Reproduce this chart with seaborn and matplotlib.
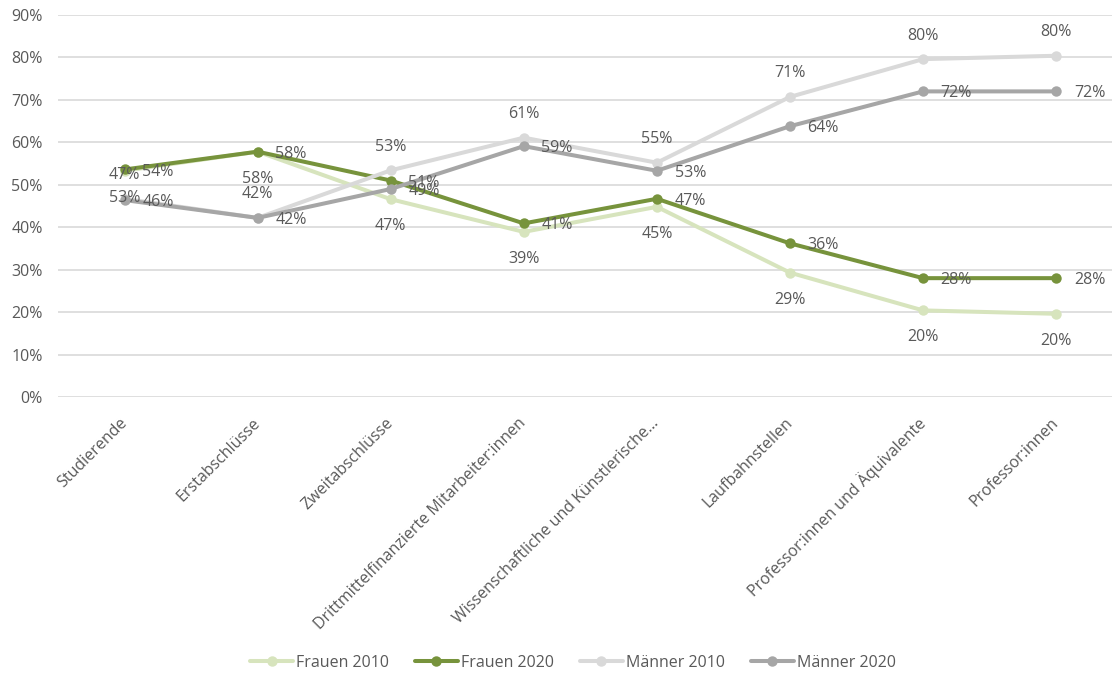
import matplotlib
matplotlib.use("Agg")
import matplotlib.pyplot as plt
import seaborn as sns
import pandas as pd
from matplotlib.lines import Line2D

categories = ["Studierende", "Erstabschlüsse", "Zweitabschlüsse",
              "Drittmittelfinanzierte Mitarbeiter:innen",
              "Wissenschaftliche und Künstlerische…", "Laufbahnstellen",
              "Professor:innen und Äquivalente", "Professor:innen"]

frauen_2010 = [53.3, 57.8, 46.6, 38.9, 44.8, 29.3, 20.4, 19.6]
frauen_2020 = [53.6, 57.8, 51.0, 40.9, 46.7, 36.2, 28.0, 28.0]
maenner_2010 = [46.7, 42.2, 53.4, 61.1, 55.2, 70.7, 79.6, 80.4]
maenner_2020 = [46.4, 42.2, 49.0, 59.1, 53.3, 63.8, 72.0, 72.0]

series_names = ["Frauen 2010", "Frauen 2020", "Männer 2010", "Männer 2020"]
series_values = [frauen_2010, frauen_2020, maenner_2010, maenner_2020]
colors = ["#D7E4BD", "#77933C", "#D9D9D9", "#A6A6A6"]

sns.set_theme(style="white")
plt.rcParams['font.family'] = ['Open Sans', 'DejaVu Sans']
TXT = "#595959"
FS = 11.5
LW = 2.9
MS = 7.5

rows = []
for name, vals in zip(series_names, series_values):
    for i, v in enumerate(vals):
        rows.append({"pos": i, "value": v, "series": name})
df = pd.DataFrame(rows)

fig = plt.figure(figsize=(11.17, 6.76), dpi=100)
ax = fig.add_axes([58 / 1117, 1 - 397 / 676, (1112 - 58) / 1117, (397 - 15) / 676])

sns.lineplot(data=df, x="pos", y="value", hue="series", hue_order=series_names,
             palette=colors, marker="o", markersize=MS, markeredgewidth=0,
             linewidth=LW, ax=ax, legend=False, zorder=3)

ax.set_xlim(-0.5, 7.42)
ax.set_ylim(0, 90)
ax.set_yticks(range(0, 91, 10))
ax.set_yticklabels([f"{t}%" for t in range(0, 91, 10)], color=TXT, fontsize=FS)
ax.set_xticks(range(len(categories)))
ax.set_xticklabels(categories, rotation=45, ha="right", va="center",
                   rotation_mode="anchor", color=TXT, fontsize=FS)
ax.tick_params(axis="both", length=0)
ax.tick_params(axis="x", pad=17)
ax.tick_params(axis="y", pad=11)
ax.grid(axis="y", color="#D9D9D9", linewidth=1.2, zorder=0)
ax.set_axisbelow(True)
for s in ax.spines.values():
    s.set_visible(False)
ax.set_xlabel("")
ax.set_ylabel("")

offsets = {
    "Frauen 2010": (0, -19.5),
    "Frauen 2020": (24, -1.5),
    "Männer 2010": (0, 17),
    "Männer 2020": (24, -1.5),
}
for name, vals in zip(series_names, series_values):
    for i, v in enumerate(vals):
        ax.annotate(f"{round(v):d}%", (i, v), xytext=offsets[name],
                    textcoords="offset points", ha="center", va="center",
                    color=TXT, fontsize=FS, zorder=5)

handles = [Line2D([0], [0], color=c, linewidth=LW, marker="o", markersize=MS,
                  markeredgewidth=0) for c in colors]
fig.legend(handles, series_names, loc="center", bbox_to_anchor=(0.513, 1 - 663 / 676),
           ncol=4, frameon=False, fontsize=FS, handlelength=2.7,
           handletextpad=0.2, columnspacing=1.6, labelcolor=TXT)

fig.savefig("out.png", dpi=100)
